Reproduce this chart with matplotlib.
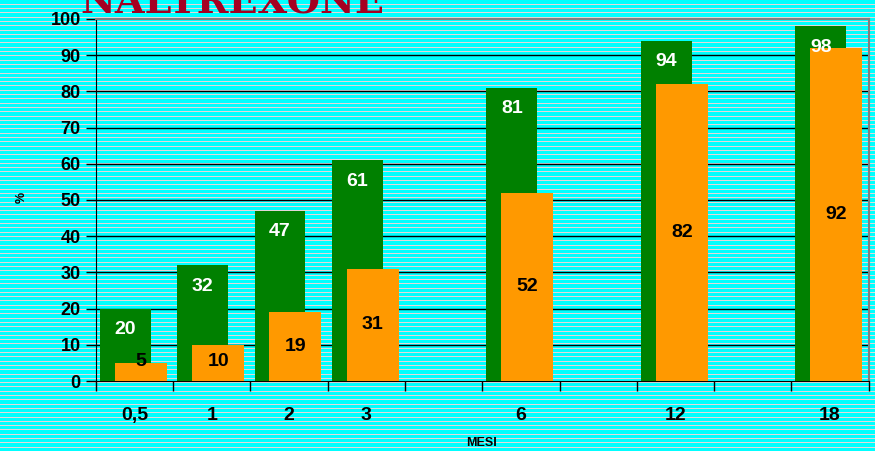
import numpy as np
import matplotlib.pyplot as plt

# Data
mesi = ["0,5", "1", "2", "3", "6", "12", "18"]
slot = [0, 1, 2, 3, 5, 7, 9]          # category slots on the x axis (gaps at 4, 6, 8)
verde = [20, 32, 47, 61, 81, 94, 98]
arancio = [5, 10, 19, 31, 52, 82, 92]

plt.rcParams['font.family'] = ['Liberation Sans', 'DejaVu Sans']
plt.rcParams['font.weight'] = 'bold'

fig = plt.figure(figsize=(8.75, 4.51), dpi=100)

# striped cyan background
bg = fig.add_axes([0, 0, 1, 1], zorder=-10)
rows = 451
img = np.ones((rows, 1, 3)) * np.array([0.0, 1.0, 1.0])
stripe = (np.floor(np.arange(rows) / 4.3) != np.floor((np.arange(rows) + 1) / 4.3))
img[stripe] = np.array([0.90, 0.85, 0.85])
bg.imshow(img, aspect='auto', interpolation='nearest', extent=[0, 1, 0, 1])
bg.axis('off')

ax = fig.add_axes([0.1097, 0.1552, 0.8829, 0.8027])
ax.patch.set_alpha(0)

x = np.array(slot)
ax.bar(x + 0.382, verde, width=0.66, color='#008000', zorder=3)
ax.bar(x + 0.582, arancio, width=0.673, color='#FF9900', zorder=4)

for xi, v in zip(x, verde):
    ax.text(xi + 0.382, v - 5.8, str(v), color='white', ha='center', va='center',
            fontsize=14, fontweight='bold', zorder=6)
for xi, v in zip(x, arancio):
    ax.text(xi + 0.582, max(v / 2, 5.3), str(v), color='black', ha='center', va='center',
            fontsize=14, fontweight='bold', zorder=6)

ax.set_xlim(0, 10)
ax.set_ylim(0, 100)
ax.set_yticks(range(0, 101, 10))
ax.tick_params(axis='y', length=7, width=1, labelsize=13, pad=4)
for t in ax.get_yticklabels():
    t.set_fontweight('bold')

ax.set_xticks(range(0, 11))
ax.set_xticklabels([])
ax.tick_params(axis='x', which='major', length=7, width=1, direction='out')
ax.set_xticks(x + 0.5, minor=True)
ax.set_xticklabels(mesi, minor=True, fontsize=14, fontweight='bold')
ax.tick_params(axis='x', which='minor', length=0, pad=19)

for yv in range(10, 100, 10):
    ax.axhline(yv, color='black', lw=1, zorder=1)

ax.spines['left'].set_color('black')
ax.spines['bottom'].set_color('black')
ax.spines['top'].set_color('#808080')
ax.spines['right'].set_color('#808080')
ax.spines['top'].set_linewidth(1.5)
ax.spines['right'].set_linewidth(1.5)

fig.text(22 / 875, 1 - 197 / 451, "%", rotation=90, ha='center', va='center',
         fontsize=9, fontweight='bold')
fig.text(482 / 875, 1 - 443 / 451, "MESI", ha='center', va='center',
         fontsize=9, fontweight='bold')
fig.text(232 / 875, 1 - 13 / 451, "NALTREXONE", ha='center', va='baseline',
         fontsize=27.5, fontweight='bold', color='#A50021', family='DejaVu Serif')

fig.savefig('out.png', dpi=100)
